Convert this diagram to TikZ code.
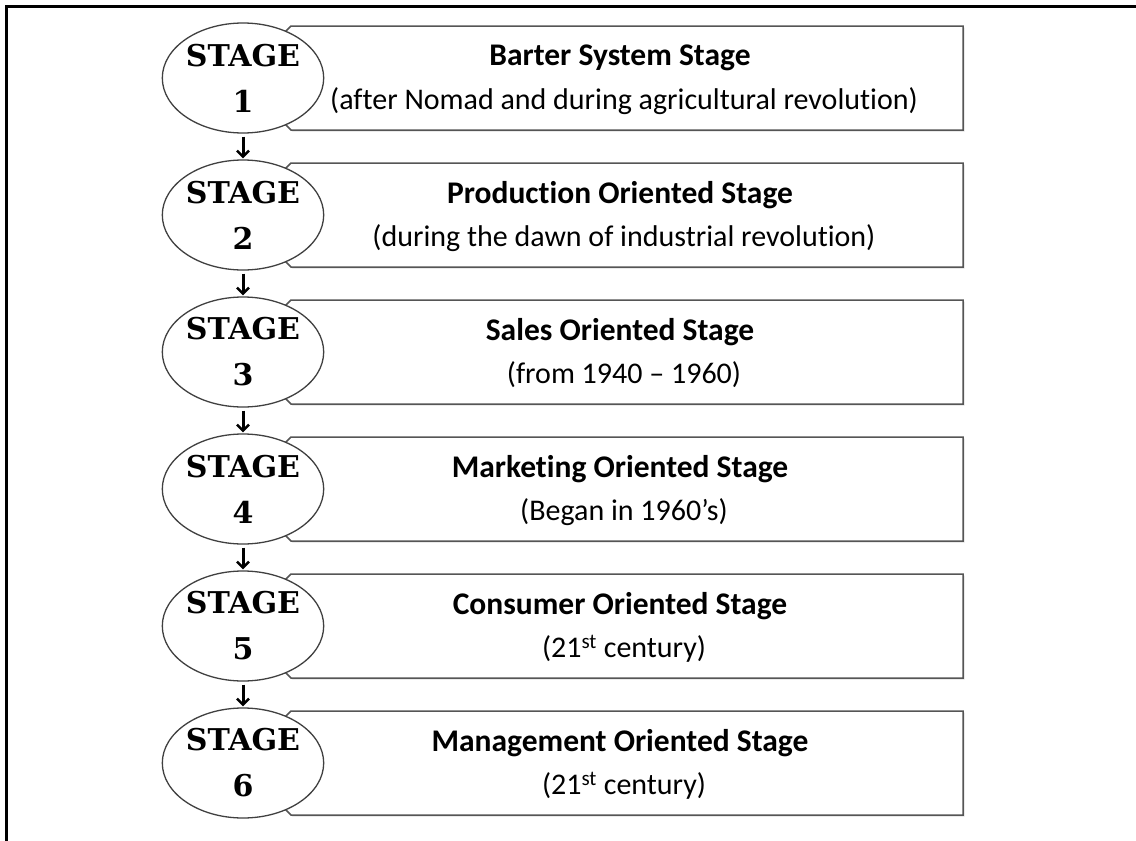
\documentclass[tikz,border=0pt]{standalone}
\usepackage{fontspec}
\setmainfont{Carlito}[Ligatures={NoCommon}]
\newfontfamily\stencilfont{DejaVu Serif}
\usetikzlibrary{arrows.meta,shapes.geometric,shadows}
\definecolor{boxgray}{RGB}{85,85,85}

\begin{document}
\begin{tikzpicture}[x=1pt,y=-1pt,
  stagebubble/.style={ellipse,draw=black!75,line width=1.3pt,fill=white,
    minimum width=140pt,minimum height=110pt,inner sep=0pt,align=center,
    font=\stencilfont\bfseries\fontsize{30}{48}\selectfont},
  stagebox/.style={draw=boxgray,line width=1.5pt,fill=white,
    drop shadow={opacity=0.25,shadow xshift=1.5pt,shadow yshift=-1.5pt}},
  title/.style={font=\bfseries\fontsize{31.5}{36}\selectfont},
  subtitle/.style={font=\fontsize{30}{36}\selectfont},
  stagearrow/.style={-{Straight Barb[length=6pt,width=12pt,line width=2.5pt]},line width=3pt,shorten <=3pt,shorten >=1pt}]
\useasboundingbox (0,0) rectangle (1136,841);
\draw[line width=2.5pt] (6.5,841) -- (6.5,6.5) -- (1136,6.5);
% one box and one bubble per stage
\foreach \i/\ttl/\sub in {
  1/Barter System Stage/(after Nomad and during agricultural revolution),
  2/Production Oriented Stage/(during the dawn of industrial revolution),
  3/Sales Oriented Stage/(from 1940 -- 1960),
  4/Marketing Oriented Stage/(Began in 1960’s),
  5/Consumer Oriented Stage/(21\textsuperscript{st} century),
  6/Management Oriented Stage/(21\textsuperscript{st} century)}{
  \pgfmathsetmacro\cy{78+137*(\i-1)}
  \draw[stagebox] (283,\cy-44) -- (291,\cy-52) -- (963,\cy-52) -- (963,\cy+52)
    -- (291,\cy+52) -- (283,\cy+44) -- cycle;
  \node[stagebubble] (s\i) at (243,\cy) {STAGE\\[-2pt]\i};
  \node[title] (t\i) at (620,\cy-20) {\ttl};
  \node[subtitle] (u\i) at (624,\cy+23) {\sub};
}
\foreach \i in {1,...,5}{
  \pgfmathtruncatemacro\j{\i+1}
  \draw[stagearrow] (s\i.south) -- (s\j.north);
}
\end{tikzpicture}
\end{document}
